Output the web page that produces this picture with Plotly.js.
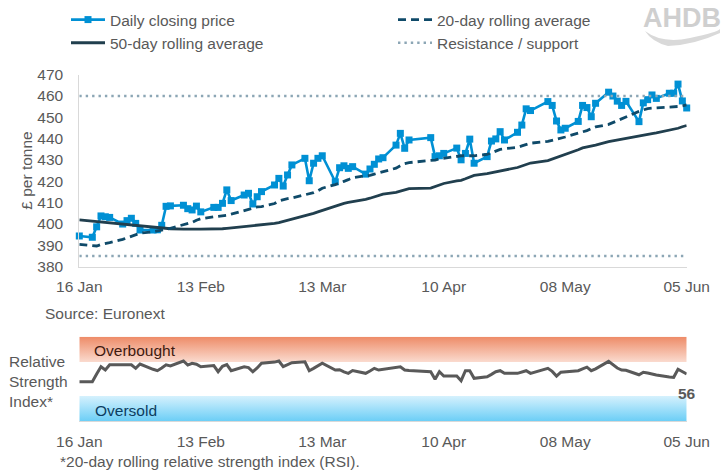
<!DOCTYPE html>
<html>
<head>
<meta charset="utf-8">
<script src="https://cdn.plot.ly/plotly-3.0.1.min.js"></script>
<style>
  html, body { margin: 0; padding: 0; background: #ffffff; }
  #chart { width: 721px; height: 476px; }
</style>
</head>
<body>
<div id="chart"></div>
<script>
// Trading days (Euronext closed 3 Apr, 6 Apr and 1 May)
const dates = [
  "2026-01-16",
  "2026-01-19","2026-01-20","2026-01-21","2026-01-22","2026-01-23",
  "2026-01-26","2026-01-27","2026-01-28","2026-01-29","2026-01-30",
  "2026-02-02","2026-02-03","2026-02-04","2026-02-05","2026-02-06",
  "2026-02-09","2026-02-10","2026-02-11","2026-02-12","2026-02-13",
  "2026-02-16","2026-02-17","2026-02-18","2026-02-19","2026-02-20",
  "2026-02-23","2026-02-24","2026-02-25","2026-02-26","2026-02-27",
  "2026-03-02","2026-03-03","2026-03-04","2026-03-05","2026-03-06",
  "2026-03-09","2026-03-10","2026-03-11","2026-03-12","2026-03-13",
  "2026-03-16","2026-03-17","2026-03-18","2026-03-19","2026-03-20",
  "2026-03-23","2026-03-24","2026-03-25","2026-03-26","2026-03-27",
  "2026-03-30","2026-03-31","2026-04-01","2026-04-02",
  "2026-04-07","2026-04-08","2026-04-09","2026-04-10",
  "2026-04-13","2026-04-14","2026-04-15","2026-04-16","2026-04-17",
  "2026-04-20","2026-04-21","2026-04-22","2026-04-23","2026-04-24",
  "2026-04-27","2026-04-28","2026-04-29","2026-04-30",
  "2026-05-04","2026-05-05","2026-05-06","2026-05-07","2026-05-08",
  "2026-05-11","2026-05-12","2026-05-13","2026-05-14","2026-05-15",
  "2026-05-18","2026-05-19","2026-05-20","2026-05-21","2026-05-22",
  "2026-05-25","2026-05-26","2026-05-27","2026-05-28","2026-05-29",
  "2026-06-01","2026-06-02","2026-06-03","2026-06-04","2026-06-05"
];

// Daily closing price, £/t
const closingPrice = [
  394.4,
  393.8,398.7,403.8,403.4,403.1,
  400.0,401.6,402.7,400.3,397.2,
  397.2,397.3,399.4,408.3,408.5,
  408.8,407.2,406.6,408.4,405.7,
  407.8,407.8,409.7,416.0,411.0,
  413.6,414.4,409.4,412.8,415.2,
  418.3,421.4,417.8,423.0,427.7,
  430.8,420.3,428.5,430.8,432.0,
  419.8,426.4,427.3,426.1,426.9,
  423.4,425.8,428.0,430.5,431.1,
  437.0,442.5,435.5,439.4,
  440.5,431.6,432.0,433.1,
  435.6,430.1,433.1,439.8,428.5,
  431.6,438.9,439.9,443.3,439.4,
  443.0,446.4,454.0,453.2,
  457.4,455.6,448.3,444.1,444.9,
  448.1,455.6,454.6,450.3,456.6,
  461.8,460.0,457.6,455.6,457.5,
  448.0,456.8,458.3,460.5,458.9,
  461.3,461.3,465.6,457.7,454.4
];

// 20-day rolling average, £/t
const avg20 = [
  390.5,
  389.8,389.7,390.4,390.8,391.3,
  392.8,393.6,394.2,395.0,395.7,
  396.4,396.7,397.1,397.5,398.0,
  399.5,400.0,400.8,401.8,402.5,
  403.4,403.6,403.8,404.1,404.6,
  406.4,406.9,407.5,408.0,408.2,
  409.6,410.8,411.5,411.9,412.2,
  413.8,414.4,414.7,415.6,416.8,
  418.5,419.4,420.0,420.8,421.7,
  422.6,422.8,423.4,424.0,424.6,
  426.2,427.3,428.3,428.8,
  429.7,430.0,430.5,430.8,
  431.9,432.0,432.0,432.0,432.0,
  432.6,433.3,434.2,435.0,435.3,
  435.9,436.6,437.4,437.9,
  438.7,439.2,439.6,440.2,440.8,
  442.6,443.1,443.8,444.7,445.5,
  446.7,447.6,448.5,449.4,450.3,
  452.8,453.5,454.1,454.3,454.4,
  454.7,454.9,455.1,455.4,455.8
];

// 50-day rolling average, £/t
const avg50 = [
  401.9,
  401.3,401.0,400.8,400.5,400.3,
  399.9,399.6,399.4,399.1,398.9,
  398.3,398.1,398.0,397.9,397.8,
  397.6,397.5,397.5,397.6,397.6,
  397.6,397.7,397.8,398.0,398.2,
  398.8,399.0,399.2,399.3,399.5,
  400.3,400.7,401.2,401.7,402.2,
  403.8,404.3,405.0,405.7,406.4,
  408.3,409.0,409.7,410.1,410.4,
  411.6,412.1,412.8,413.4,414.0,
  414.8,415.5,416.2,416.6,
  416.8,417.6,418.5,419.0,
  420.2,420.5,421.2,422.0,422.8,
  423.6,424.0,424.6,425.1,425.5,
  426.5,427.2,427.9,428.6,
  429.7,430.4,431.2,431.8,432.6,
  434.8,435.7,436.1,436.6,437.0,
  438.6,439.0,439.4,439.9,440.2,
  441.3,441.6,442.0,442.4,442.7,
  443.9,444.4,444.9,445.6,446.2
];

// 20-day rolling relative strength index
const rsi = [
  46.8,
  46.8,56.0,64.5,60.6,66.7,
  66.7,66.7,66.7,62.6,67.7,
  61.5,59.8,63.0,66.7,65.4,
  71.3,66.5,68.6,67.5,64.5,
  65.8,58.6,65.0,67.0,59.8,
  64.5,63.5,58.6,63.0,68.6,
  70.0,71.3,64.5,67.0,69.3,
  70.4,59.8,62.6,66.0,68.6,
  60.6,61.0,58.5,56.7,60.0,
  56.7,59.5,62.6,60.6,61.5,
  63.5,64.5,60.6,60.0,
  58.6,49.6,58.6,53.5,
  53.5,48.0,59.8,59.8,50.8,
  52.7,55.5,58.6,59.8,56.7,
  56.7,58.5,59.8,56.7,
  62.6,59.0,53.5,58.0,58.6,
  59.8,62.0,64.0,59.8,62.0,
  70.8,67.0,63.0,60.6,60.3,
  55.0,58.0,57.0,55.5,54.7,
  52.5,52.0,61.5,58.5,56.0
];

const resistanceLevel = 460;
const supportLevel = 385;
const overboughtBand = [70, 100];
const oversoldBand = [0, 30];
const tickDates = ["2026-01-16","2026-02-13","2026-03-13","2026-04-10","2026-05-08","2026-06-05"];

// ---- page geometry: paper spans the whole page, pixels -> paper fractions ----
const W = 721, H = 476;
const px = x => x / W;
const py = y => 1 - y / H;
const PLOT_LEFT = 79.3, PLOT_RIGHT = 686.7;
const PRICE_TOP = 74.7, PRICE_BOTTOM = 266.7;

const FONT = "Liberation Sans, Arial, Helvetica, sans-serif";
const GREY = "#595959";
const first = dates[0], last = dates[dates.length - 1];

const traces = [
  {
    name: "Daily closing price", x: dates, y: closingPrice,
    type: "scatter", mode: "lines+markers", cliponaxis: false,
    line: { color: "#0090D4", width: 2.6 },
    marker: { symbol: "square", size: 7, color: "#0090D4" },
    legend: "legend", hoverinfo: "skip"
  },
  {
    name: "50-day rolling average", x: dates, y: avg50,
    type: "scatter", mode: "lines", cliponaxis: false,
    line: { color: "#213F4E", width: 2.8 },
    legend: "legend", hoverinfo: "skip"
  },
  {
    name: "20-day rolling average", x: dates, y: avg20,
    type: "scatter", mode: "lines", cliponaxis: false,
    line: { color: "#0F4A69", width: 2.8, dash: "8px,5px" },
    legend: "legend2", hoverinfo: "skip"
  },
  {
    name: "Resistance / support",
    x: [first, last, null, first, last],
    y: [resistanceLevel, resistanceLevel, null, supportLevel, supportLevel],
    type: "scatter", mode: "lines", cliponaxis: false,
    line: { color: "#8CA6B5", width: 2.4, dash: "2.4px,4px" },
    legend: "legend2", hoverinfo: "skip"
  },
  // RSI panel: overbought / oversold bands
  {
    x: [first, last, last, first], y: [overboughtBand[0], overboughtBand[0], overboughtBand[1], overboughtBand[1]],
    xaxis: "x2", yaxis: "y2", type: "scatter", mode: "none", fill: "toself",
    fillgradient: { type: "vertical", colorscale: [[0, "#FADBCF"], [1, "#EE8B67"]] },
    showlegend: false, hoverinfo: "skip"
  },
  {
    x: [first, last, last, first], y: [oversoldBand[0], oversoldBand[0], oversoldBand[1], oversoldBand[1]],
    xaxis: "x2", yaxis: "y2", type: "scatter", mode: "none", fill: "toself",
    fillgradient: { type: "vertical", colorscale: [[0, "#6BCEF6"], [1, "#D6F1FD"]] },
    showlegend: false, hoverinfo: "skip"
  },
  {
    name: "RSI", x: dates, y: rsi, xaxis: "x2", yaxis: "y2",
    type: "scatter", mode: "lines", cliponaxis: false,
    line: { color: "#595959", width: 3 },
    showlegend: false, hoverinfo: "skip"
  }
];

const axisFont = { family: FONT, size: 15.5, color: GREY };

// AHDB mark: swoosh beneath the letters
const P = (x, y) => px(x) + "," + py(y);
const swooshPath = "M" + P(645, 31) +
  " Q" + P(662, 44) + " " + P(690, 38) +
  " T" + P(720, 29) +
  " L" + P(720, 33) +
  " Q" + P(694, 45) + " " + P(668, 46) +
  " Q" + P(652, 42) + " " + P(645, 31) + " Z";

const legendBase = {
  xref: "paper", yref: "paper", xanchor: "left", yanchor: "top",
  orientation: "v", bgcolor: "rgba(0,0,0,0)", borderwidth: 0,
  font: { family: FONT, size: 15.5, color: GREY }, itemwidth: 34
};

const layout = {
  width: W, height: H, autosize: false,
  margin: { l: 0, r: 0, t: 0, b: 0, pad: 0 },
  paper_bgcolor: "#ffffff", plot_bgcolor: "rgba(0,0,0,0)",
  font: { family: FONT, size: 15.5, color: GREY },
  showlegend: true,
  xaxis: {
    type: "date", domain: [px(PLOT_LEFT), px(PLOT_RIGHT)], anchor: "y",
    range: [first, last], tickvals: tickDates, tickformat: "%d %b", tickangle: 0,
    showgrid: false, zeroline: false, showline: true, linecolor: "#D9D9D9", linewidth: 1,
    ticks: "", tickfont: axisFont, ticklabelstandoff: 6
  },
  yaxis: {
    domain: [py(PRICE_BOTTOM), py(PRICE_TOP)], anchor: "x",
    range: [380, 470], dtick: 10, tick0: 380,
    showgrid: false, zeroline: false, showline: true, linecolor: "#D9D9D9", linewidth: 1,
    ticks: "", tickfont: axisFont, ticklabelstandoff: 12
  },
  xaxis2: {
    type: "date", domain: [px(PLOT_LEFT), px(PLOT_RIGHT)], anchor: "y2",
    range: [first, last], tickvals: tickDates, tickformat: "%d %b", tickangle: 0,
    showgrid: false, zeroline: false, showline: true, linecolor: "#D9D9D9", linewidth: 1,
    ticks: "", tickfont: axisFont, ticklabelstandoff: 6
  },
  yaxis2: {
    domain: [py(421.3), py(336.7)], anchor: "x2",
    range: [0, 100], visible: false, fixedrange: true
  },
  legend: Object.assign({}, legendBase, { x: px(66), y: py(3) }),
  legend2: Object.assign({}, legendBase, { x: px(393), y: py(3) }),
  shapes: [
    { type: "path", xref: "paper", yref: "paper", path: swooshPath,
      fillcolor: "#D9D9D9", line: { width: 0 } }
  ],
  annotations: [
    { text: "£ per tonne", xref: "paper", yref: "paper", x: px(27), y: py((PRICE_TOP + PRICE_BOTTOM) / 2),
      xanchor: "center", yanchor: "middle", textangle: -90, showarrow: false, font: axisFont },
    { text: "AHDB", xref: "paper", yref: "paper", x: px(682), y: py(18),
      xanchor: "center", yanchor: "middle", showarrow: false,
      font: { family: FONT, size: 27, color: "#CFCFCF", weight: 700 } },
    { text: "Source: Euronext", xref: "paper", yref: "paper", x: px(43), y: py(313),
      xanchor: "left", yanchor: "middle", showarrow: false, font: axisFont },
    { text: "Relative<br>Strength<br>Index*", xref: "paper", yref: "paper", x: px(7), y: py(381),
      xanchor: "left", yanchor: "middle", align: "left", showarrow: false, font: axisFont },
    { text: "Overbought", xref: "paper", yref: "paper", x: px(92), y: py(350),
      xanchor: "left", yanchor: "middle", showarrow: false,
      font: { family: FONT, size: 15.5, color: "#3E1A10" } },
    { text: "Oversold", xref: "paper", yref: "paper", x: px(93), y: py(410),
      xanchor: "left", yanchor: "middle", showarrow: false,
      font: { family: FONT, size: 15.5, color: "#0C3D60" } },
    { text: String(Math.round(rsi[rsi.length - 1])), xref: "x2", yref: "paper",
      x: last, y: py(393), xanchor: "center", yanchor: "middle", showarrow: false,
      font: { family: FONT, size: 15.5, color: GREY, weight: 700 } },
    { text: "*20-day rolling relative strength index (RSI).", xref: "paper", yref: "paper",
      x: px(58), y: py(461), xanchor: "left", yanchor: "middle", showarrow: false, font: axisFont }
  ]
};

Plotly.newPlot("chart", traces, layout, { staticPlot: true, displayModeBar: false });
</script>
</body>
</html>
